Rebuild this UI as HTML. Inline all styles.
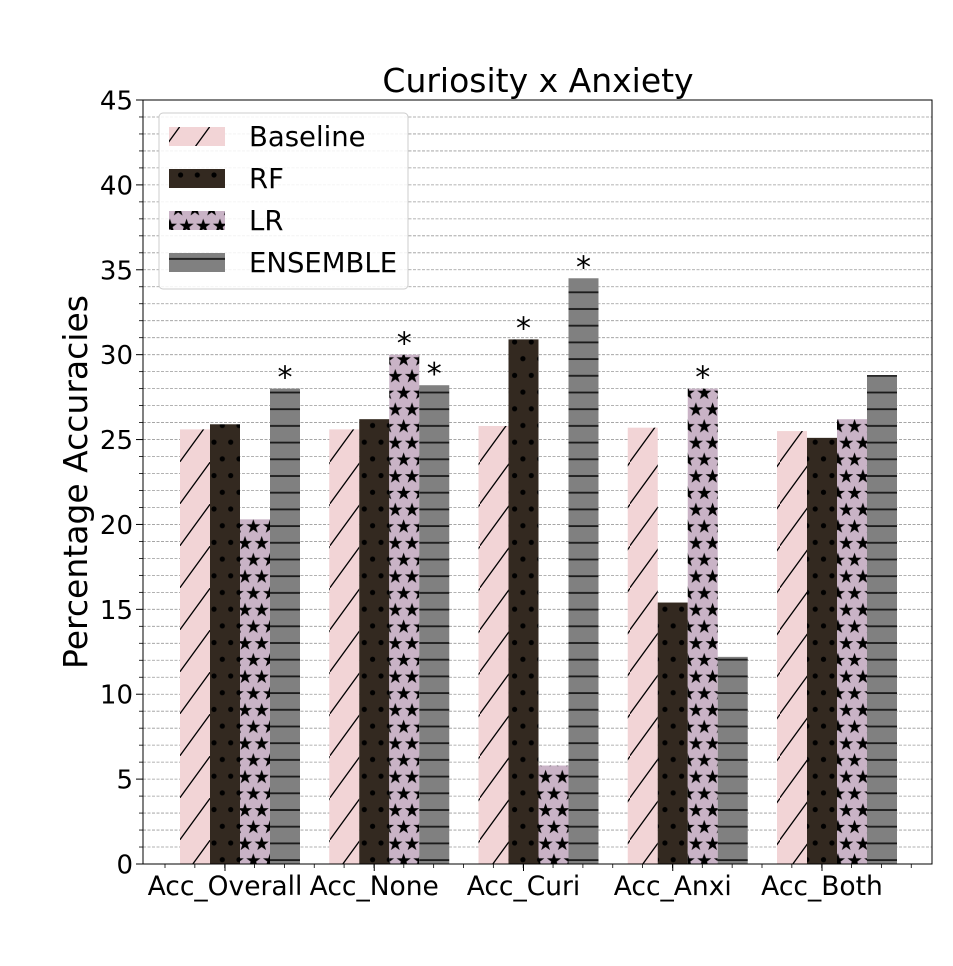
<!DOCTYPE html>
<html><head><meta charset="utf-8"><style>
html,body{margin:0;padding:0;background:#fff;}
svg{display:block;font-family:"DejaVu Sans","Liberation Sans",sans-serif;}
</style></head><body>
<svg id="chart" width="953" height="966" viewBox="0 0 953 966">
<defs>
<pattern id="p-hatch" patternUnits="userSpaceOnUse" width="30" height="42" x="180" y="0">
<rect width="30" height="42" fill="#f2d4d6"/>
<line x1="-1" y1="43" x2="31" y2="-1" stroke="#000" stroke-width="1.3"/>
</pattern>
<pattern id="p-dots" patternUnits="userSpaceOnUse" width="16.7" height="33.4" x="210" y="0">
<rect width="16.7" height="33.4" fill="#332920"/>
<circle cx="4" cy="8" r="2.6" fill="#000"/>
<circle cx="12.3" cy="24.7" r="2.6" fill="#000"/>
</pattern>
<pattern id="p-stars" patternUnits="userSpaceOnUse" width="16.7" height="33.4" x="240" y="0">
<rect width="16.7" height="33.4" fill="#c9b3c6"/>
<g fill="#000">
<polygon transform="translate(5,9) scale(1.25)" points="0,-6 1.4,-1.9 5.7,-1.9 2.2,0.7 3.5,4.9 0,2.4 -3.5,4.9 -2.2,0.7 -5.7,-1.9 -1.4,-1.9"/>
<polygon transform="translate(21.7,9) scale(1.25)" points="0,-6 1.4,-1.9 5.7,-1.9 2.2,0.7 3.5,4.9 0,2.4 -3.5,4.9 -2.2,0.7 -5.7,-1.9 -1.4,-1.9"/>
<polygon transform="translate(-11.7,9) scale(1.25)" points="0,-6 1.4,-1.9 5.7,-1.9 2.2,0.7 3.5,4.9 0,2.4 -3.5,4.9 -2.2,0.7 -5.7,-1.9 -1.4,-1.9"/>
<polygon transform="translate(13.35,25.7) scale(1.25)" points="0,-6 1.4,-1.9 5.7,-1.9 2.2,0.7 3.5,4.9 0,2.4 -3.5,4.9 -2.2,0.7 -5.7,-1.9 -1.4,-1.9"/>
<polygon transform="translate(-3.35,25.7) scale(1.25)" points="0,-6 1.4,-1.9 5.7,-1.9 2.2,0.7 3.5,4.9 0,2.4 -3.5,4.9 -2.2,0.7 -5.7,-1.9 -1.4,-1.9"/>
<polygon transform="translate(5,42.4) scale(1.25)" points="0,-6 1.4,-1.9 5.7,-1.9 2.2,0.7 3.5,4.9 0,2.4 -3.5,4.9 -2.2,0.7 -5.7,-1.9 -1.4,-1.9"/>
<polygon transform="translate(13.35,-7.7) scale(1.25)" points="0,-6 1.4,-1.9 5.7,-1.9 2.2,0.7 3.5,4.9 0,2.4 -3.5,4.9 -2.2,0.7 -5.7,-1.9 -1.4,-1.9"/>
</g>
</pattern>
<pattern id="p-lines" patternUnits="userSpaceOnUse" width="30" height="16.7" x="0" y="0">
<rect width="30" height="16.7" fill="#808080"/>
<rect y="7.5" width="30" height="1.8" fill="#1a1a1a"/>
</pattern>
</defs>
<g id="grid"></g>
<g id="bars"></g>
<g id="axes"></g>
<text x="538" y="92" font-size="33" text-anchor="middle">Curiosity x Anxiety</text>
<text transform="translate(87,482) rotate(-90)" font-size="33" text-anchor="middle">Percentage Accuracies</text>
<g>
<rect x="159" y="113" width="249" height="176" rx="4" fill="#fff" fill-opacity="0.85" stroke="#ccc" stroke-width="1"/>
<g><rect x="169" y="127" width="56" height="19" fill="url(#p-hatch)"/><text x="249" y="146" font-size="27.5">Baseline</text></g>
<g><rect x="169" y="169" width="56" height="19" fill="url(#p-dots)"/><text x="249" y="188" font-size="27.5">RF</text></g>
<g><rect x="169" y="211" width="56" height="19" fill="url(#p-stars)"/><text x="249" y="230" font-size="27.5">LR</text></g>
<g><rect x="169" y="253" width="56" height="19" fill="url(#p-lines)"/><text x="249" y="272" font-size="27.5">ENSEMBLE</text></g>
</g>
</svg>
<script>
const categories = ["Acc_Overall","Acc_None","Acc_Curi","Acc_Anxi","Acc_Both"];
const seriesNames = ["Baseline","RF","LR","ENSEMBLE"];
const baseline = [25.6,25.6,25.8,25.7,25.5];
const rf = [25.9,26.2,30.9,15.4,25.1];
const lr = [20.3,30.0,5.8,28.0,26.2];
const ensemble = [28.0,28.2,34.5,12.2,28.8];
const significant = [[0,3],[1,2],[1,3],[2,1],[2,3],[3,2]];
const yTicks = [0,5,10,15,20,25,30,35,40,45];

const NS="http://www.w3.org/2000/svg";
const L=143,R=932,T=100,B=864,YMAX=45;
const y=v=>B-(v/YMAX)*(B-T);
const groupStep=149.25, barW=30, firstBar=180;
const xBar=(g,s)=>firstBar+g*groupStep+s*barW;
const fills=["url(#p-hatch)","url(#p-dots)","url(#p-stars)","url(#p-lines)"];
const all=[baseline,rf,lr,ensemble];
function mk(tag,attrs,parent){const e=document.createElementNS(NS,tag);for(const k in attrs)e.setAttribute(k,attrs[k]);parent.appendChild(e);return e;}
const grid=document.getElementById('grid'),bars=document.getElementById('bars'),axes=document.getElementById('axes');
for(let v=1;v<YMAX;v++){
  const l=mk('line',{x1:L,x2:R,y1:y(v),y2:y(v),stroke:'#999','stroke-width':0.8,'stroke-dasharray':'3,1.5'},grid);
  
  
}
all.forEach((arr,s)=>arr.forEach((v,g)=>{
  const r=mk('rect',{x:xBar(g,s),y:y(v),width:barW,height:B-y(v),fill:fills[s]},bars);
  
  
}));
significant.forEach(([g,s])=>{
  const t=mk('text',{x:xBar(g,s)+barW/2,y:y(all[s][g])-1,'font-size':30,'text-anchor':'middle'},bars);
  t.textContent='*';
  
  
});
mk('rect',{x:L,y:T,width:R-L,height:B-T,fill:'none',stroke:'#000','stroke-width':1},axes);
yTicks.forEach(v=>{
  mk('line',{x1:L-7,x2:L,y1:y(v),y2:y(v),stroke:'#000','stroke-width':1},axes);
  const t=mk('text',{x:L-10,y:y(v)+9.5,'font-size':26,'text-anchor':'end'},axes);
  t.textContent=v;
  
  
});
for(let v=1;v<YMAX;v++){ if(v%5) mk('line',{x1:L-4,x2:L,y1:y(v),y2:y(v),stroke:'#000','stroke-width':0.8},axes); }
for(let x=L+22;x<R;x+=29.85){ mk('line',{x1:x,x2:x,y1:B,y2:B+4,stroke:'#000','stroke-width':0.8},axes); }
categories.forEach((c,g)=>{
  const cx=xBar(g,1)+barW/2;
  mk('line',{x1:cx,x2:cx,y1:B,y2:B+7,stroke:'#000','stroke-width':1},axes);
  const t=mk('text',{x:cx,y:B+31,'font-size':26.5,'text-anchor':'middle'},axes);
  t.textContent=c;
  
  
});
</script>
</body></html>
